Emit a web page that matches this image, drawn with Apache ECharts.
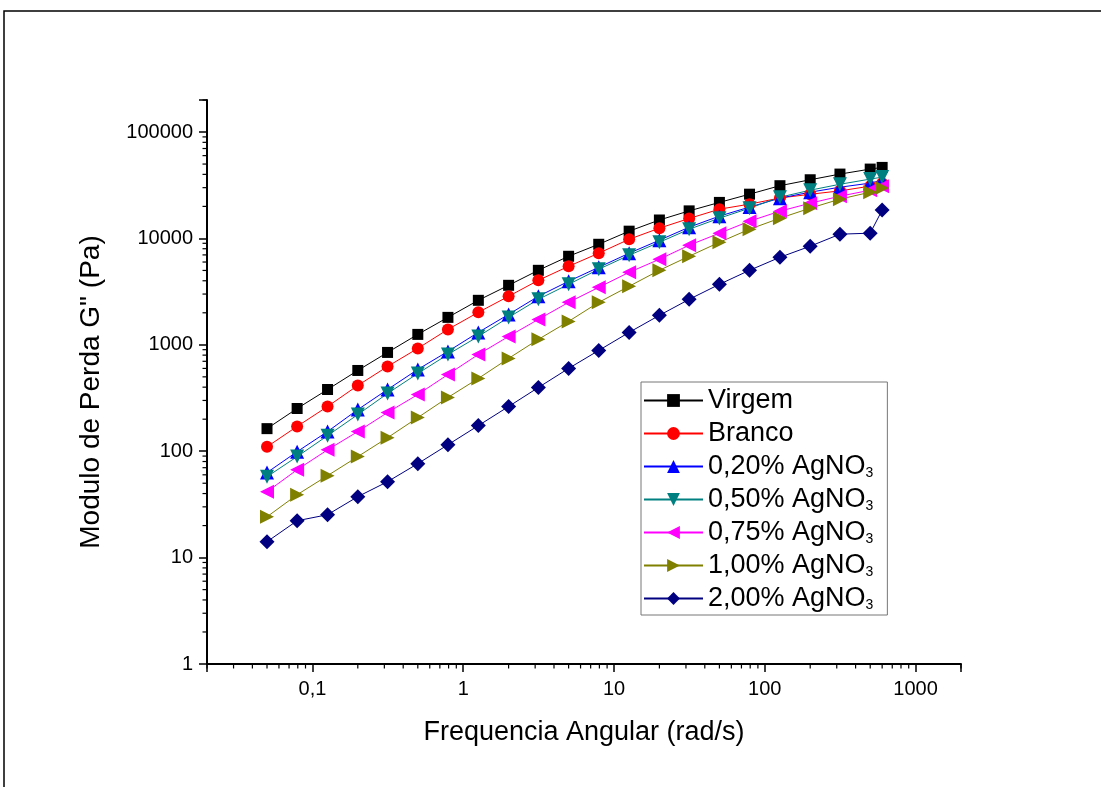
<!DOCTYPE html>
<html>
<head>
<meta charset="utf-8">
<script src="https://cdn.jsdelivr.net/npm/echarts@6/dist/echarts.min.js"></script>
<style>
  html, body { margin: 0; background: #fff; }
  #chart { width: 1101px; height: 787px; }
</style>
</head>
<body>
<div id="chart"></div>
<script>
// angular frequency (rad/s)
const freq = [0.05, 0.0792, 0.126, 0.2, 0.315, 0.5, 0.792, 1.26, 2, 3.15, 5,
  7.92, 12.6, 20, 31.5, 50, 79.2, 126, 200, 315, 500, 600];

// loss modulus G'' (Pa)
const virgem = [163, 252, 380, 574, 848, 1253, 1811, 2620, 3625, 5015, 6795,
  8810, 11700, 14900, 18150, 21800, 26050, 31300, 35600, 40250, 44850, 46500];
const branco = [110, 171, 263, 415, 626, 925, 1396, 2020, 2857, 4040, 5470,
  7260, 9820, 12480, 15400, 18830, 21000, 24000, 26000, 28000, 31000, 33000];
const ag020 = [63, 99, 153, 246, 380, 587, 867, 1309, 1932, 2857, 3955,
  5350, 7260, 9620, 12750, 16200, 19700, 23900, 27200, 30300, 33100, 35300];
const ag050 = [57.6, 89, 140, 221, 349, 538, 812, 1200, 1811, 2675, 3705,
  5130, 6950, 9200, 12200, 15500, 19250, 24400, 28400, 32300, 36100, 37700];
const ag075 = [41.6, 67, 103, 153, 231, 341, 526, 812, 1200, 1734, 2507,
  3470, 4800, 6370, 8630, 11190, 14520, 18030, 21430, 24950, 28400, 31000];
const ag100 = [24.2, 39, 58.9, 89, 134, 207, 320, 483, 745, 1125, 1660,
  2507, 3550, 5015, 6800, 9200, 12200, 15500, 19250, 23400, 27200, 29700];
const ag200 = [14.1, 22.2, 25.3, 37.4, 51.7, 76.4, 115, 174, 263, 397, 600,
  885, 1309, 1892, 2675, 3705, 5015, 6650, 8450, 10960, 11200, 18450];

const seriesNames = ['Virgem', 'Branco', '0,20% AgNO3', '0,50% AgNO3',
  '0,75% AgNO3', '1,00% AgNO3', '2,00% AgNO3'];

// tick labels
const xTickValues = [0.1, 1, 10, 100, 1000];
const xTickLabels = ['0,1', '1', '10', '100', '1000'];
const yTickValues = [1, 10, 100, 1000, 10000, 100000];
const yTickLabels = ['1', '10', '100', '1000', '10000', '100000'];

// minor ticks (2..9 in each decade)
const minorSteps = [2, 3, 4, 5, 6, 7, 8, 9];
const xDecades = [0.01, 0.1, 1, 10, 100, 1000];
const yDecades = [1, 10, 100, 1000, 10000, 100000];

const X_MIN = 0.02, X_MAX = 2000, Y_MIN = 1, Y_MAX = 200000;
const FONT = '"Liberation Sans", Arial, sans-serif';

const xMinor = [];
xDecades.forEach(d => minorSteps.forEach(s => {
  const v = +(d * s).toPrecision(6);
  if (v >= X_MIN && v <= X_MAX) xMinor.push([v, Y_MIN]);
}));
const yMinor = [];
yDecades.forEach(d => minorSteps.forEach(s => {
  const v = d * s;
  if (v >= Y_MIN && v <= Y_MAX) yMinor.push([X_MIN, v]);
}));

function tickLabel(values, labels) {
  return function (v) {
    const i = values.findIndex(t => Math.abs(t - v) / t < 1e-6);
    return i < 0 ? '' : labels[i];
  };
}

function makeSeries(name, data, color, symbol, size, rotate) {
  return {
    name: name,
    type: 'line',
    data: freq.map((f, i) => [f, data[i]]),
    color: color,
    symbol: symbol,
    symbolSize: size,
    symbolRotate: rotate || 0,
    showAllSymbol: true,
    lineStyle: { width: 1, color: color },
    itemStyle: { color: color },
    emphasis: { disabled: true },
    z: 3,
  };
}

const chart = echarts.init(document.getElementById('chart'), null, { renderer: 'canvas' });

chart.setOption({
  animation: false,
  backgroundColor: '#fff',
  graphic: [
    {
      type: 'rect',
      shape: { x: 4, y: 11, width: 1200, height: 900 },
      style: { fill: 'none', stroke: '#000', lineWidth: 1.5 },
      silent: true,
    },
  ],
  grid: { left: 207, top: 100, width: 754, height: 564, containLabel: false },
  legend: {
    data: seriesNames,
    orient: 'vertical',
    left: 641,
    top: 382,
    itemWidth: 59,
    itemHeight: 16,
    itemGap: 6,
    padding: [5, 14, 3, 2],
    borderColor: '#777',
    borderWidth: 1,
    selectedMode: false,
    formatter: function (name) {
      return name.replace('AgNO3', 'AgNO{sub|3}');
    },
    textStyle: {
      fontFamily: FONT,
      fontSize: 27,
      color: '#000',
      rich: {
        sub: { fontFamily: FONT, fontSize: 14, color: '#000', verticalAlign: 'bottom', padding: [12, 0, 0, 0] },
      },
    },
  },
  xAxis: {
    type: 'log',
    logBase: 10,
    min: X_MIN,
    max: X_MAX,
    name: 'Frequencia Angular (rad/s)',
    nameLocation: 'middle',
    nameGap: 55,
    nameTextStyle: { fontFamily: FONT, fontSize: 27, color: '#000' },
    axisLine: { lineStyle: { color: '#000', width: 2 } },
    axisTick: { inside: false, length: 8, lineStyle: { color: '#000', width: 1.5 } },
    axisLabel: {
      formatter: tickLabel(xTickValues, xTickLabels),
      margin: 15,
      fontFamily: FONT,
      fontSize: 20,
      color: '#000',
    },
    splitLine: { show: false },
  },
  yAxis: {
    type: 'log',
    logBase: 10,
    min: Y_MIN,
    max: Y_MAX,
    name: 'Modulo de Perda G" (Pa)',
    nameLocation: 'middle',
    nameGap: 102,
    nameTextStyle: { fontFamily: FONT, fontSize: 28, color: '#000', padding: [0, 20, 0, 0] },
    axisLine: { lineStyle: { color: '#000', width: 2 } },
    axisTick: { inside: false, length: 8, lineStyle: { color: '#000', width: 1.5 } },
    axisLabel: {
      formatter: tickLabel(yTickValues, yTickLabels),
      margin: 14,
      fontFamily: FONT,
      fontSize: 20,
      color: '#000',
    },
    splitLine: { show: false },
  },
  series: [
    makeSeries(seriesNames[0], virgem, '#000000', 'rect', 11),
    makeSeries(seriesNames[1], branco, '#ff0000', 'circle', 12),
    makeSeries(seriesNames[2], ag020, '#0000ff', 'triangle', 14),
    makeSeries(seriesNames[3], ag050, '#008080', 'triangle', 14, 180),
    makeSeries(seriesNames[4], ag075, '#ff00ff', 'triangle', 14, 90),
    makeSeries(seriesNames[5], ag100, '#808000', 'triangle', 14, -90),
    makeSeries(seriesNames[6], ag200, '#000080', 'diamond', 15),
    {
      name: 'xMinorTicks',
      type: 'custom',
      data: xMinor,
      clip: false,
      silent: true,
      renderItem: function (params, api) {
        const p = api.coord([api.value(0), api.value(1)]);
        return {
          type: 'line',
          shape: { x1: p[0], y1: p[1], x2: p[0], y2: p[1] + 4.5 },
          style: { stroke: '#000', lineWidth: 1.2 },
        };
      },
    },
    {
      name: 'yMinorTicks',
      type: 'custom',
      data: yMinor,
      clip: false,
      silent: true,
      renderItem: function (params, api) {
        const p = api.coord([api.value(0), api.value(1)]);
        return {
          type: 'line',
          shape: { x1: p[0], y1: p[1], x2: p[0] - 4.5, y2: p[1] },
          style: { stroke: '#000', lineWidth: 1.2 },
        };
      },
    },
  ],
});
</script>
</body>
</html>
